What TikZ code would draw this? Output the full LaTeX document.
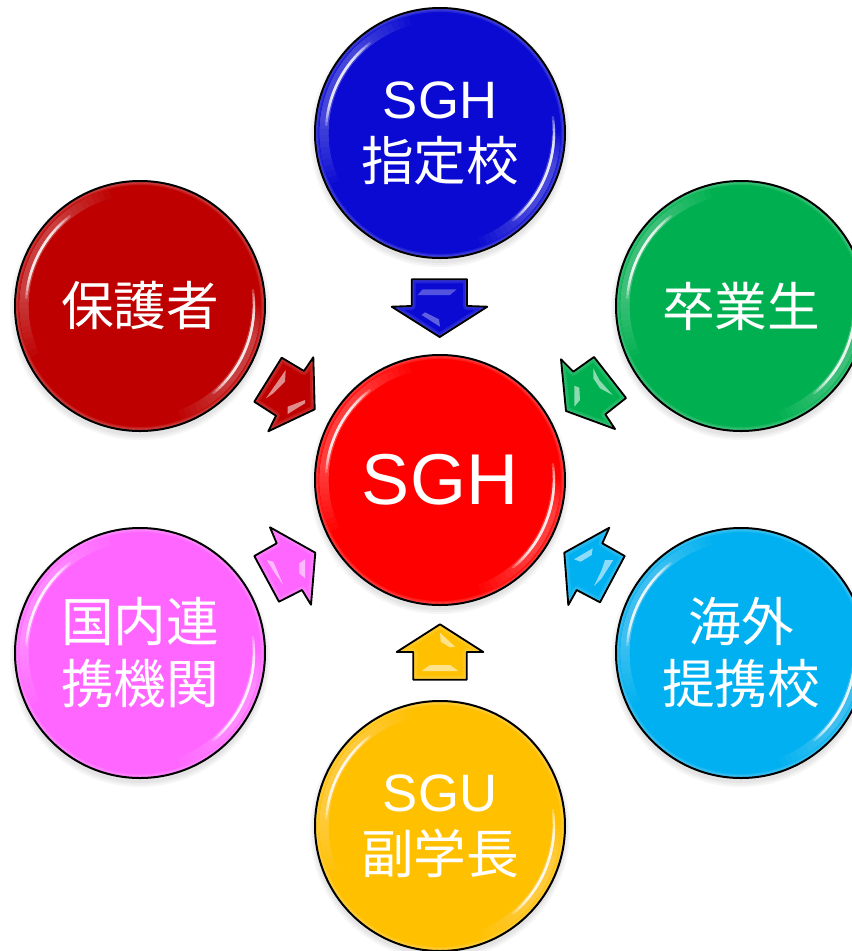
\documentclass[tikz,border=0pt]{standalone}
\usepackage{fontspec}
\setmainfont{Liberation Sans}
\newfontfamily\cjk{Noto Sans CJK JP}
\newcommand\ballfont{\fontsize{39.5}{46.5}\selectfont}
\definecolor{cblue}{HTML}{0A0AD2}
\definecolor{cred}{HTML}{FF0000}
\definecolor{cdark}{HTML}{BE0000}
\definecolor{cgreen}{HTML}{00B050}
\definecolor{ccyan}{HTML}{00B0F0}
\definecolor{cyell}{HTML}{FFC000}
\definecolor{cmag}{HTML}{FF66FF}
\tikzset{
  ball/.style={circle,minimum size=187.5pt,inner sep=0pt,align=center,text=white,font=\ballfont},
  outline/.style={draw=black,line width=1.5pt},
  arrowline/.style={draw=black,line width=1.4pt,line join=round},
  shine/.style={fill=white,fill opacity=.55}
}
\usetikzlibrary{calc}
% #1 name, #2 position, #3 colour, #4 text
\newcommand\gball[4]{
  \foreach \r in {130,128,126}{
    \fill[black,opacity=.035] ($(#2)+(0,4)$) circle[radius=\r];
  }
  \node[ball,fill=#3] (#1) at (#2) {#4};
  \begin{scope}
    \clip (#1.center) circle[radius=125];
    \foreach \w in {2,4,6}{
      \draw[white,opacity=.10,line width=\w pt] (#1.center) circle[radius=125];
    }
    % broad tinted bands, tapering in many small steps
    \foreach \d in {0,3,...,30}{
      \draw[white,opacity=.028,line width=7pt]
        ($(#1.center)+(-105-\d:116)$) arc[start angle=-105-\d,end angle=-205+\d,radius=116];
      \draw[white,opacity=.028,line width=7pt]
        ($(#1.center)+(15-\d*.5:116)$) arc[start angle=15-\d*.5,end angle=70-\d,radius=116];
    }
    % white cores
    \foreach \d in {0,2,...,14}{
      \draw[white,opacity=.24,line width=1.8pt,line cap=round]
        ($(#1.center)+(-128-\d:114)$) arc[start angle=-128-\d,end angle=-176+\d,radius=114];
      \draw[white,opacity=.24,line width=1.8pt,line cap=round]
        ($(#1.center)+(6-\d:114)$) arc[start angle=6-\d,end angle=50-\d,radius=114];
    }
  \end{scope}
  \draw[outline] (#1.center) circle[radius=125];
}
% #1 colour, #2 outline path, #3 highlights
\newcommand\barrow[3]{
  \fill[#1] #2 -- cycle;
  \begin{scope}
    \clip #2 -- cycle;
    \foreach \w in {3,6}{
      \draw[white,opacity=.10,line width=\w pt,line join=round] #2 -- cycle;
    }
    #3
  \end{scope}
  \draw[arrowline] #2 -- cycle;
}
\begin{document}
\begin{tikzpicture}[x=0.75pt,y=-0.75pt]
\useasboundingbox (0,0) rectangle (852,951);
\clip (0,0) rectangle (852,951);
\fill[white] (0,0) rectangle (852,951);

\gball{top}{440,133}{cblue}{SGH\\{\cjk 指定校}}
\gball{lup}{140,306}{cdark}{{\cjk 保護者}}
\gball{rup}{741,306}{cgreen}{{\cjk 卒業生}}
\gball{llo}{140,653}{cmag}{{\cjk 国内連}\\{\cjk 携機関}}
\gball{rlo}{741,653}{ccyan}{{\cjk 海外}\\{\cjk 提携校}}
\gball{bot}{440,826}{cyell}{SGU\\{\cjk 副学長}}
\gball{mid}{440,480}{cred}{\fontsize{54}{60}\selectfont SGH}

\barrow{cblue}{(411.7,279.3) -- (467,279.3) -- (467,306) -- (487.3,306.7) -- (439.7,337) -- (391.7,306.7) -- (411.7,306)}{
  \fill[shine,fill opacity=.3] (417.7,295) -- (422.7,289.3) -- (456.7,289.3) -- (450,295) -- cycle;
  \fill[shine,fill opacity=.35] (421.7,315) -- (425,312.3) -- (439,319.3) -- (440,326.7) -- cycle;
}
\barrow{cdark}{(281.7,357.7) -- (304,371) -- (313.3,357.3) -- (314.7,409.3) -- (268.3,431.3) -- (276,415.7) -- (254.3,401.7)}{
  \fill[shine] (285.7,370) -- (285,381.7) -- (273.3,393.3) -- (266,398.3) -- cycle;
  \fill[shine] (287.7,406.7) -- (305,400) -- (305,403.3) -- (287.7,414) -- cycle;
}
\barrow{cgreen}{(561,359.3) -- (573.3,371.7) -- (594,357) -- (626,398) -- (605.3,414.3) -- (615,429) -- (566,411)}{
  \fill[shine] (574.3,385.7) -- (579.3,387.7) -- (580,400) -- (574.3,406.7) -- cycle;
  \fill[shine] (593.3,368.3) -- (599.3,380) -- (612.7,395) -- (600,388.3) -- (593.3,378.3) -- cycle;
}
\barrow{cmag}{(270,527.3) -- (315.3,552.7) -- (311,604.7) -- (302,590) -- (279,601.7) -- (254.3,556) -- (276.7,543.3)}{
  \fill[shine] (266.7,560) -- (273.3,561.7) -- (283.3,585) -- (275,573.3) -- cycle;
  \fill[shine] (299.3,563.3) -- (305,559.3) -- (305,578.3) -- (299.3,573.3) -- cycle;
}
\barrow{ccyan}{(609.3,527.7) -- (602.3,543.3) -- (624.7,556) -- (600,602.3) -- (576.7,590) -- (568.3,605) -- (564.3,552.7)}{
  \fill[shine] (574,559.3) -- (592.7,548.3) -- (591.7,555) -- (580.7,561.7) -- cycle;
  \fill[shine] (613.3,560) -- (605,560) -- (601.7,570) -- (594,586) -- (601.7,578.3) -- cycle;
}
\barrow{cyell}{(440,624.3) -- (483.3,652) -- (466.7,652) -- (466.7,679.7) -- (413.3,679.7) -- (413.3,652) -- (396.7,652)}{
  \fill[shine] (440,632.7) -- (455,646.7) -- (450,647.3) -- (440.7,641.7) -- cycle;
  \fill[shine] (421.7,671) -- (430,665) -- (450,665) -- (458.3,671) -- cycle;
}
\end{tikzpicture}
\end{document}
